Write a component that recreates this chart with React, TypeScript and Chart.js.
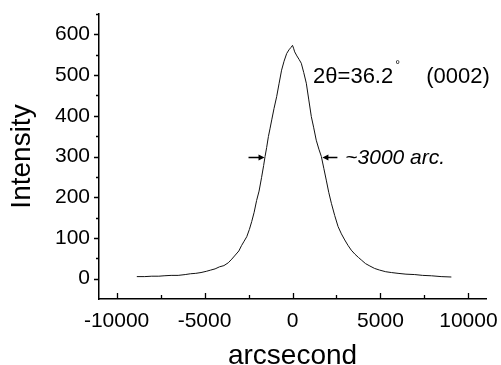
import React, { useEffect, useRef } from "react";
import { Chart, registerables } from "chart.js";

Chart.register(...registerables);

const xValues: number[] = [
  -8850, -8400, -8000, -7600, -7300, -6900, -6500, -6100, -5800, -5500, -5200, -4900, -4650, -4400,
  -4150, -3900, -3650, -3450, -3250, -3050, -2900, -2750, -2600, -2450, -2320, -2180, -2040, -1900,
  -1760, -1640, -1560, -1470, -1370, -1280, -1180, -1050, -900, -760, -620, -480, -330, -200, -85, 0,
  60, 125, 250, 380, 500, 640, 785, 920, 1070, 1200, 1350, 1500, 1640, 1780, 1920, 2060, 2210, 2400,
  2590, 2780, 2970, 3150, 3340, 3550, 3750, 3910, 4150, 4400, 4670, 4950, 5300, 5620, 6000, 6450,
  6950, 7400, 7900, 8450, 9030,
];
const intensity: number[] = [
  5, 5, 6, 6, 7, 8, 8, 10, 12, 13, 15, 18, 21, 24,
  29, 32, 39, 48, 58, 68, 81, 92, 103, 121, 140, 163, 192, 215,
  248, 278, 300, 322, 349, 368, 390, 418, 447, 480, 512, 534, 553, 562, 568, 573,
  566, 557, 547, 538, 529, 506, 480, 441, 398, 372, 340, 318, 300, 271, 242, 212, 185, 155,
  128, 110, 95, 82, 70, 60, 52, 46, 37, 31, 25, 21, 17, 15, 13, 11,
  10, 8, 7, 5, 4,
];
const xTicks: number[] = [-10000, -5000, 0, 5000, 10000];
const xMinorTicks: number[] = [-7500, -2500, 2500, 7500];
const yTicks: number[] = [0, 100, 200, 300, 400, 500, 600];
const yMinorTicks: number[] = [50, 150, 250, 350, 450, 550, 650];
const xTitle = "arcsecond";
const yTitle = "Intensity";
const peakLabel = "2θ=36.2";
const reflLabel = "(0002)";
const fwhmLabel = "~3000 arc.";
const fwhmLevel = 300;
const fwhmLeft = -1590;
const fwhmRight = 1700;

const FONT = "'Liberation Sans', Arial, Helvetica, sans-serif";

export default function App() {
  const ref = useRef<HTMLCanvasElement | null>(null);

  useEffect(() => {
    if (!ref.current) return;
    const annotate = {
      id: "annotate",
      afterDraw(chart: any) {
        const ctx = chart.ctx as CanvasRenderingContext2D;
        const xs = chart.scales.x;
        const ys = chart.scales.y;
        const area = chart.chartArea;
        ctx.save();
        ctx.strokeStyle = "#000";
        ctx.fillStyle = "#000";
        ctx.lineWidth = 1.3;
        // y ticks (outward)
        ctx.beginPath();
        yTicks.forEach((v) => {
          const p = Math.round(ys.getPixelForValue(v)) + 0.5;
          ctx.moveTo(area.left, p);
          ctx.lineTo(area.left - 5, p);
        });
        yMinorTicks.forEach((v) => {
          const p = Math.round(ys.getPixelForValue(v)) + 0.5;
          ctx.moveTo(area.left, p);
          ctx.lineTo(area.left - 3, p);
        });
        // x ticks (inward)
        xTicks.forEach((v) => {
          const p = Math.round(xs.getPixelForValue(v)) + 0.5;
          ctx.moveTo(p, area.bottom);
          ctx.lineTo(p, area.bottom - 6);
        });
        xMinorTicks.forEach((v) => {
          const p = Math.round(xs.getPixelForValue(v)) + 0.5;
          ctx.moveTo(p, area.bottom);
          ctx.lineTo(p, area.bottom - 4);
        });
        ctx.stroke();

        // peak label
        ctx.textBaseline = "middle";
        ctx.textAlign = "left";
        ctx.font = `22px ${FONT}`;
        const ly = ys.getPixelForValue(495);
        const lx = xs.getPixelForValue(1170);
        ctx.fillText(peakLabel, lx, ly);
        const w = ctx.measureText(peakLabel).width;
        ctx.font = `12px ${FONT}`;
        ctx.fillText("°", lx + w + 2, ly - 11);
        ctx.font = `22px ${FONT}`;
        ctx.fillText(reflLabel, xs.getPixelForValue(7600), ly);

        // FWHM arrows
        const ay = Math.round(ys.getPixelForValue(fwhmLevel)) + 0.5;
        const la = xs.getPixelForValue(fwhmLeft);
        const ra = xs.getPixelForValue(fwhmRight);
        ctx.lineWidth = 1.3;
        ctx.beginPath();
        ctx.moveTo(la - 16, ay);
        ctx.lineTo(la - 4, ay);
        ctx.moveTo(ra + 15, ay);
        ctx.lineTo(ra + 4, ay);
        ctx.stroke();
        ctx.beginPath();
        ctx.moveTo(la, ay);
        ctx.lineTo(la - 6, ay - 3);
        ctx.lineTo(la - 6, ay + 3);
        ctx.closePath();
        ctx.moveTo(ra, ay);
        ctx.lineTo(ra + 6, ay - 3);
        ctx.lineTo(ra + 6, ay + 3);
        ctx.closePath();
        ctx.fill();

        ctx.font = `italic 21px ${FONT}`;
        ctx.fillText(fwhmLabel, xs.getPixelForValue(3000), ay + 1);
        ctx.restore();
      },
    };

    const chart = new Chart(ref.current, {
      type: "scatter",
      data: {
        datasets: [
          {
            data: xValues.map((x, i) => ({ x, y: intensity[i] })),
            showLine: true,
            borderColor: "#111",
            borderWidth: 1,
            pointRadius: 0,
            tension: 0,
          },
        ],
      },
      options: {
        animation: false,
        responsive: false,
        layout: { padding: { top: 14, right: 15, left: 0, bottom: 0 } },
        plugins: { legend: { display: false }, tooltip: { enabled: false } },
        scales: {
          x: {
            type: "linear",
            min: -11000,
            max: 11000,
            afterBuildTicks: (s: any) => {
              s.ticks = xTicks.map((v) => ({ value: v }));
            },
            afterFit: (s: any) => {
              s.height = 66;
              s.paddingLeft = 0;
              s.paddingRight = 0;
              s.paddingTop = 0;
              s.paddingBottom = 0;
            },
            ticks: {
              color: "#000",
              font: { family: FONT, size: 21 },
              padding: 10,
              maxRotation: 0,
              autoSkip: false,
              callback: (v: any) => String(v),
            },
            grid: { display: false, drawTicks: false },
            border: { display: true, color: "#000", width: 1.5 },
            title: {
              display: true,
              text: xTitle,
              color: "#000",
              font: { family: FONT, size: 28, lineHeight: 0.65 },
              padding: { top: 0, bottom: 0 },
            },
          },
          y: {
            type: "linear",
            min: -50,
            max: 650,
            afterBuildTicks: (s: any) => {
              s.ticks = yTicks.map((v) => ({ value: v }));
            },
            afterFit: (s: any) => {
              s.width = 99;
              s.paddingLeft = 0;
              s.paddingRight = 0;
              s.paddingTop = 0;
              s.paddingBottom = 0;
            },
            ticks: {
              color: "#000",
              font: { family: FONT, size: 21 },
              padding: 9,
              callback: (v: any) => String(v),
            },
            grid: { display: false, drawTicks: false },
            border: { display: true, color: "#000", width: 1.5 },
            title: {
              display: true,
              text: yTitle,
              color: "#000",
              font: { family: FONT, size: 28, lineHeight: 1 },
              padding: { top: 8, bottom: 0 },
            },
          },
        },
      },
      plugins: [annotate],
    });
    return () => chart.destroy();
  }, []);

  return (
    <div style={{ position: "fixed", left: 0, top: 0, width: 501, height: 365, background: "#fff" }}>
      <canvas ref={ref} width={501} height={365} style={{ display: "block" }} />
    </div>
  );
}
